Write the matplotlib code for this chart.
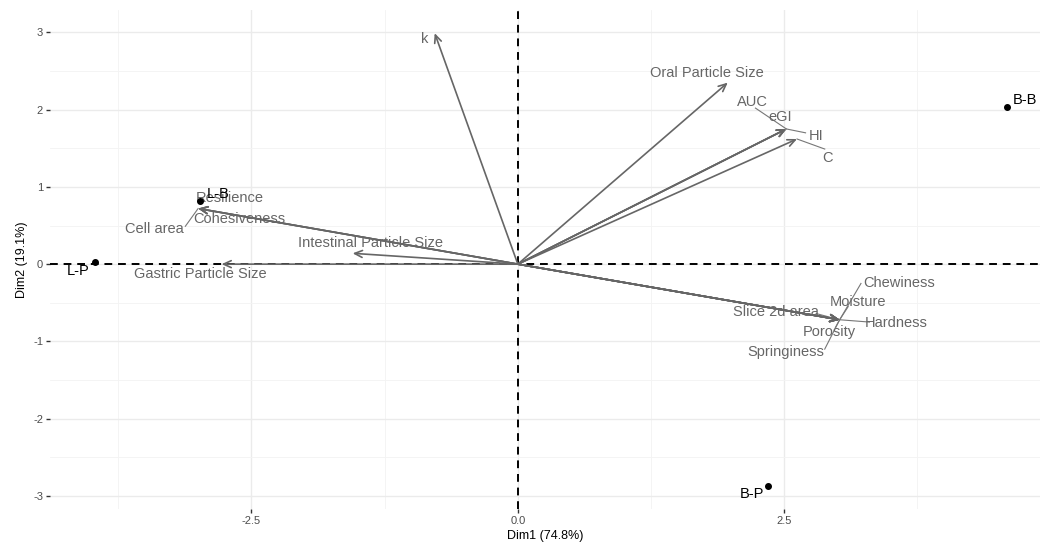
import numpy as np
import matplotlib.pyplot as plt

plt.rcParams['font.family'] = ['Liberation Sans', 'DejaVu Sans']
plt.rcParams['axes.unicode_minus'] = False

# individuals (PCA scores)
ind_names = ['L-P', 'L-B', 'B-B', 'B-P']
ind_x = [-3.97, -2.98, 4.59, 2.35]
ind_y = [0.03, 0.82, 2.03, -2.87]

# variables (loadings, scaled)
var_names = ['k', 'Oral Particle Size', 'AUC', 'eGI', 'HI', 'C',
             'Resilience', 'Cohesiveness', 'Cell area',
             'Intestinal Particle Size', 'Gastric Particle Size',
             'Chewiness', 'Moisture', 'Slice 2d area', 'Hardness',
             'Porosity', 'Springiness']
var_x = [-0.78, 1.97, 2.52, 2.52, 2.52, 2.62,
         -3.00, -3.00, -3.00, -1.55, -2.78,
         3.02, 3.02, 3.02, 3.02, 3.02, 3.02]
var_y = [2.99, 2.35, 1.75, 1.75, 1.75, 1.62,
         0.72, 0.72, 0.72, 0.14, 0.00,
         -0.72, -0.72, -0.72, -0.72, -0.72, -0.72]

# repelled label positions (layout)
var_lab_x = [-0.87, 1.77, 2.20, 2.46, 2.80, 2.91,
             -2.70, -2.61, -3.41, -1.38, -2.98,
             3.58, 3.19, 2.42, 3.55, 2.92, 2.51]
var_lab_y = [2.92, 2.48, 2.10, 1.90, 1.66, 1.38,
             0.85, 0.58, 0.45, 0.27, -0.13,
             -0.25, -0.49, -0.62, -0.76, -0.88, -1.14]
# labels that got a connector segment, with segment end near the label
seg_end = {'AUC': (2.23, 2.02), 'HI': (2.70, 1.70), 'C': (2.88, 1.49),
           'Cell area': (-3.12, 0.49), 'Chewiness': (3.22, -0.25),
           'Springiness': (2.88, -1.10), 'Hardness': (3.30, -0.75),
           'Slice 2d area': (2.80, -0.64), 'Moisture': (3.10, -0.55),
           'Porosity': (2.98, -0.82)}
ind_lab_x = [-4.13, -2.81, 4.76, 2.20]
ind_lab_y = [-0.09, 0.91, 2.13, -2.98]

fig = plt.figure(figsize=(10.43, 5.44), dpi=100)
ax = fig.add_axes([50 / 1043, 35 / 544, 990 / 1043, 499 / 544])

ax.set_xlim(-4.39, 4.90)
ax.set_ylim(-3.17, 3.29)
ax.set_xticks([-2.5, 0, 2.5])
ax.set_xticklabels(['-2.5', '0.0', '2.5'])
ax.set_xticks([-3.75, -1.25, 1.25, 3.75], minor=True)
ax.set_yticks([-3, -2, -1, 0, 1, 2, 3])
ax.set_yticks([-2.5, -1.5, -0.5, 0.5, 1.5, 2.5], minor=True)
ax.grid(which='major', color='#ebebeb', lw=1.0)
ax.grid(which='minor', color='#f3f3f3', lw=0.6)
ax.set_axisbelow(True)
for s in ax.spines.values():
    s.set_visible(False)
ax.tick_params(which='major', length=3, width=1, color='#333333',
               labelsize=8, labelcolor='#4d4d4d', pad=2)
ax.tick_params(which='minor', length=0)

ax.axhline(0, color='black', ls='--', lw=1.4, dashes=(4, 3), zorder=2)
ax.axvline(0, color='black', ls='--', lw=1.4, dashes=(4, 3), zorder=2)

for i, name in enumerate(var_names):
    ax.annotate('', xy=(var_x[i], var_y[i]), xytext=(0, 0),
                arrowprops=dict(arrowstyle='->,head_length=0.55,head_width=0.25',
                                color='#666666', lw=1.2,
                                shrinkA=0, shrinkB=0), zorder=3)
    if name in seg_end:
        ex, ey = seg_end[name]
        ax.plot([var_x[i], ex], [var_y[i], ey], color='#777777', lw=0.8, zorder=3)
    ax.text(var_lab_x[i], var_lab_y[i], name, color='#666666', fontsize=10.5,
            ha='center', va='center', zorder=4)

ax.scatter(ind_x, ind_y, s=16, color='black', zorder=5)
for i, name in enumerate(ind_names):
    ax.text(ind_lab_x[i], ind_lab_y[i], name, color='black', fontsize=10.5,
            ha='center', va='center', zorder=5)

ax.set_xlabel('Dim1 (74.8%)', fontsize=9, labelpad=3)
ax.set_ylabel('Dim2 (19.1%)', fontsize=9, labelpad=4)

fig.savefig('out.png', dpi=100)
